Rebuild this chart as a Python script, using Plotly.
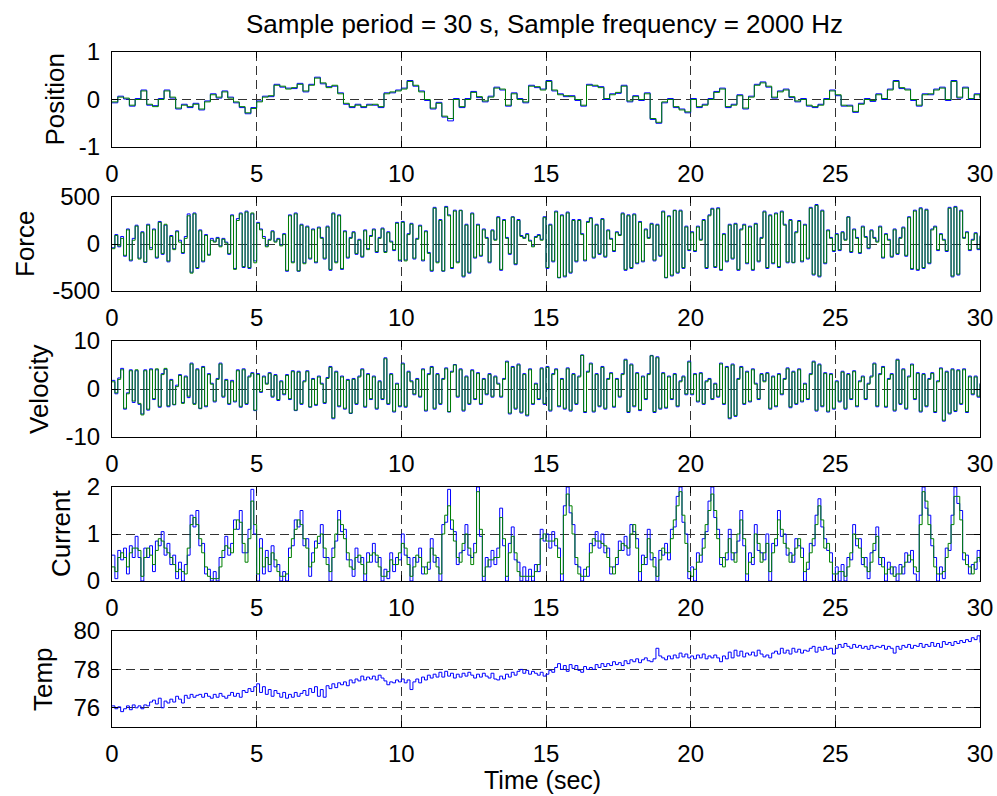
import numpy as np
import plotly.graph_objects as go

# ---------------- data ----------------
DT_POS = 0.2      # s, resolution used for the position traces
DT = 0.1          # s, resolution used for the other traces

pos_green = [
    -0.05, 0.05, 0.03, -0.12, 0.0,
    0.18, -0.1, -0.15, 0.0, 0.18,
    0.05, -0.18, -0.12, -0.15, -0.1,
    -0.2, -0.05, 0.1, 0.05, 0.16,
    0.03, -0.05, -0.15, -0.28, -0.19,
    -0.05, 0.05, 0.08, 0.3, 0.28,
    0.22, 0.25, 0.32, 0.18, 0.3,
    0.45, 0.35, 0.25, 0.3, 0.12,
    -0.08, -0.15, -0.12, -0.15, -0.12,
    -0.1, -0.15, 0.12, 0.16, 0.18,
    0.22, 0.38, 0.3, 0.16, 0.0,
    -0.18, -0.08, -0.35, -0.4, 0.0,
    -0.15, 0.0, 0.15, 0.06, -0.03,
    0.05, 0.24, 0.22, -0.12, 0.12,
    0.0, -0.05, 0.28, 0.27, 0.2,
    0.38, 0.2, 0.1, 0.08, 0.06,
    0.0, -0.12, 0.3, 0.3, 0.25,
    0.02, 0.1, 0.15, 0.28, -0.03,
    0.06, 0.0, 0.12, -0.4, -0.48,
    -0.05, 0.0, -0.15, -0.22, -0.26,
    0.0, -0.15, -0.12, 0.0, 0.15,
    0.22, -0.15, -0.12, 0.08, -0.18,
    0.05, 0.3, 0.35, 0.28, 0.05,
    0.16, 0.2, 0.06, -0.03, 0.0,
    -0.12, -0.15, -0.12, 0.0, 0.18,
    0.1, -0.12, -0.14, -0.25, -0.1,
    0.0, -0.02, 0.1, 0.02, 0.2,
    0.38, 0.25, 0.2, 0.0, -0.12,
    0.1, 0.12, 0.2, 0.24, 0.0,
    0.38, 0.05, 0.24, 0.02, 0.1,
    0.02]

pos_blue = [
    -0.07, 0.07, 0.01, -0.14, 0.02,
    0.2, -0.12, -0.13, 0.02, 0.2,
    0.03, -0.2, -0.1, -0.17, -0.08,
    -0.22, -0.03, 0.12, 0.03, 0.18,
    0.05, -0.07, -0.17, -0.3, -0.17,
    -0.03, 0.07, 0.06, 0.32, 0.26,
    0.24, 0.23, 0.34, 0.16, 0.32,
    0.47, 0.33, 0.27, 0.28, 0.14,
    -0.1, -0.17, -0.1, -0.17, -0.1,
    -0.12, -0.17, 0.14, 0.14, 0.2,
    0.24, 0.4, 0.28, 0.18, -0.02,
    -0.2, -0.06, -0.37, -0.45, 0.02,
    -0.17, 0.02, 0.17, 0.04, -0.05,
    0.07, 0.26, 0.2, -0.14, 0.14,
    0.02, -0.07, 0.3, 0.25, 0.22,
    0.4, 0.18, 0.12, 0.06, 0.08,
    -0.02, -0.14, 0.32, 0.28, 0.27,
    0.0, 0.12, 0.13, 0.3, -0.05,
    0.08, -0.02, 0.14, -0.42, -0.5,
    -0.07, 0.02, -0.17, -0.2, -0.28,
    0.02, -0.17, -0.1, 0.02, 0.17,
    0.24, -0.17, -0.1, 0.1, -0.2,
    0.07, 0.32, 0.37, 0.26, 0.03,
    0.18, 0.22, 0.04, -0.05, 0.02,
    -0.14, -0.17, -0.1, 0.02, 0.2,
    0.08, -0.14, -0.12, -0.27, -0.08,
    0.02, -0.04, 0.12, 0.0, 0.22,
    0.4, 0.23, 0.22, -0.02, -0.14,
    0.12, 0.1, 0.22, 0.26, -0.02,
    0.4, 0.03, 0.26, 0.0, 0.12,
    0.04]

force_green = [
    -50, 90, -20, 60, -120, 150, -170, 40, 190, -160,
    120, -190, 200, -60, 150, -140, 230, -100, 210, -180,
    80, -60, 130, 20, -90, 60, 300, -310, 320, -250,
    140, -180, 90, -120, 40, 20, 60, -30, 50, 10,
    -100, 300, -270, 250, 320, -240, 340, -250, 330, -200,
    220, 150, 60, -30, 40, 130, 20, 50, -20, 100,
    -280, 300, -200, 320, -285, 200, -210, 180, -150, 150,
    -190, 170, 60, -150, 180, -270, 320, -200, 300, -260,
    130, -140, 60, 120, -100, 40, -130, 140, -60, 80,
    150, -80, 60, 160, -90, 120, 20, -60, 220, -170,
    230, -180, 100, 210, -150, 50, 190, -170, 130, -100,
    -280, 380, -200, 250, -285, 390, 300, -250, 350, -200,
    355, -340, 200, -300, 320, -140, 200, -120, 150, 60,
    -190, 140, 40, 280, -270, 250, 60, -100, 285, -210,
    250, 80, 60, 100, 30, -30, 70, 90, 40, 280,
    -250, 200, -180, 340, -355, 300, -340, 330, -300, 250,
    -180, 250, 100, -170, 230, 270, -140, 200, -100, 260,
    -130, 140, 50, -70, 120, 90, 320, -270, 300, -250,
    310, -200, 230, -180, 150, 60, 210, -170, 200, -120,
    340, -355, 290, -330, 355, -300, 350, -250, 180, -60,
    120, -70, 180, 40, 250, -250, 300, 370, -240, 375,
    -270, 100, -180, 200, -150, 210, -270, 150, 200, -200,
    180, -270, 210, -180, 60, 340, -250, 300, -200, 320,
    -240, 340, 200, -190, 250, -195, 120, 240, -180, 200,
    -150, 380, -320, 410, -340, 350, -200, 140, 60, -70,
    100, -60, 120, 40, 285, -80, 150, 60, -90, 180,
    70, -40, 140, 60, 20, 180, -140, 100, 40, -130,
    150, -100, 60, 170, -120, 280, -260, 350, -270, 375,
    -250, 360, -200, 150, 180, -60, 100, 40, -70, 380,
    -340, 390, -320, 350, 60, 120, -60, 40, 110, -50,
    80]

force_blue = [
    -40, 100, -30, 80, -130, 160, -180, 60, 200, -150,
    130, -195, 210, -40, 160, -150, 240, -110, 200, -190,
    90, -50, 140, 40, -100, 80, 320, -300, 330, -260,
    150, -190, 100, -110, 60, 30, 70, -20, 60, 20,
    -110, 310, -260, 270, 330, -250, 350, -260, 320, -180,
    230, 160, 80, -20, 50, 140, 30, 60, -10, 110,
    -290, 310, -190, 330, -290, 210, -200, 190, -160, 160,
    -200, 180, 70, -160, 190, -280, 330, -190, 310, -270,
    140, -150, 70, 130, -110, 50, -140, 150, -50, 90,
    160, -90, 70, 170, -80, 130, 30, -70, 230, -180,
    240, -170, 110, 220, -160, 60, 200, -180, 140, -90,
    -290, 390, -190, 260, -290, 400, 310, -260, 360, -190,
    360, -350, 210, -310, 330, -150, 210, -130, 160, 70,
    -200, 150, 50, 290, -280, 260, 70, -110, 290, -220,
    260, 90, 70, 110, 40, -20, 80, 100, 50, 290,
    -260, 210, -190, 350, -360, 310, -350, 340, -310, 260,
    -190, 260, 110, -180, 240, 280, -150, 210, -110, 270,
    -140, 150, 60, -80, 130, 100, 330, -280, 310, -260,
    320, -210, 240, -190, 160, 70, 220, -180, 210, -130,
    350, -360, 300, -340, 360, -310, 360, -260, 190, -70,
    130, -80, 190, 50, 260, -260, 310, 380, -250, 385,
    -280, 110, -190, 210, -160, 220, -280, 160, 210, -210,
    190, -280, 220, -190, 70, 350, -260, 310, -210, 330,
    -250, 350, 210, -200, 260, -200, 130, 250, -190, 210,
    -160, 390, -330, 420, -350, 360, -210, 150, 70, -80,
    110, -70, 130, 50, 290, -90, 160, 70, -100, 190,
    80, -50, 150, 70, 30, 190, -150, 110, 50, -140,
    160, -110, 70, 180, -130, 290, -270, 360, -280, 385,
    -260, 370, -210, 160, 190, -70, 110, 50, -80, 390,
    -350, 400, -330, 360, 70, 130, -70, 50, 120, -60,
    90]

vel_green = [
    1.5, -0.8, 2.0, 4.0, -4.0, -1.0, 3.8, -2.5, 4.0, -3.0,
    -5.4, 3.8, -4.2, 4.0, -2.0, 4.2, -3.6, 3.0, 4.3, -3.5,
    1.8, -3.2, 0.5, 2.8, -3.0, 2.5, -1.5, 5.2, -3.2, 4.0,
    -4.0, 4.5, -3.5, 3.0, 1.0, -2.5, 2.0, 5.2, -1.5, 1.8,
    -3.0, 1.5, -2.5, 3.8, -3.6, 4.0, -3.0, 2.5, 3.2, -4.4,
    3.0, -0.5, 2.5, 1.0, 3.2, -1.5, 2.8, -2.2, 1.5, -1.0,
    2.8, -2.0, 3.6, -4.4, 3.5, -3.0, 1.5, 3.6, -3.7, 2.0,
    -3.2, 2.5, 1.0, -2.8, 2.2, 4.5, -6.0, 3.5, -3.5, 2.5,
    -4.0, 1.8, -5.0, 2.0, -3.0, 2.5, 4.0, -3.6, 3.0, -2.0,
    2.5, -4.0, 1.5, -2.0, 6.3, -3.0, 3.0, -4.6, 1.0, -3.5,
    5.2, -3.6, 3.5, 1.5, -1.0, 2.0, -1.5, 4.0, -4.4, 3.0,
    4.5, -4.0, 3.0, -3.0, 2.0, 4.2, -4.7, 3.5, 5.0, -1.5,
    4.0, -4.4, 2.5, -3.0, 3.8, -2.0, 3.2, -3.0, 2.0, -1.0,
    3.0, -1.5, 2.5, 1.0, -1.5, 2.0, 5.6, -5.0, 4.5, -4.0,
    5.0, -4.8, 3.0, -5.4, 4.0, -3.0, 1.0, -2.0, 4.2, -3.0,
    4.5, -4.4, 3.0, 4.0, -3.5, 2.0, -4.0, 4.2, -4.4, 3.0,
    -3.0, 2.5, 7.0, -4.7, 3.5, 5.2, -4.6, 3.0, -3.5, 4.5,
    -4.0, 2.0, 3.2, -3.6, 2.0, -1.5, 3.0, 6.0, -4.7, 5.0,
    -3.5, 3.2, -4.3, 2.5, -2.0, 3.0, 6.9, -4.7, 6.5, -4.0,
    3.2, -3.8, 2.5, -2.0, 3.0, -3.5, 1.5, 2.5, -1.0, 5.6,
    -1.0, 3.0, -2.5, 3.2, -3.0, 1.5, 2.0, -2.0, 1.0, -1.5,
    5.2, -3.0, 4.5, -6.0, 5.0, -5.5, 2.0, 4.5, -3.0, 3.5,
    -2.5, 4.0, 1.0, -2.0, 3.0, 1.5, 3.2, -4.0, 2.5, -3.5,
    3.0, -1.0, 2.0, 4.2, -3.7, 3.5, -3.0, 4.0, -2.5, 1.0,
    -2.0, 3.0, 5.6, -4.4, 5.0, -3.5, 3.2, -4.6, 3.0, -4.0,
    1.5, -2.5, 3.5, -4.0, 3.0, -2.0, 3.6, -3.5, 1.5, 2.5,
    -2.0, 1.0, 2.5, 5.2, -3.5, 3.0, 4.5, -3.6, 2.0, 3.0,
    -4.4, 6.0, -3.0, 4.0, -4.0, 2.5, 5.0, -2.0, 3.2, -4.6,
    3.0, -3.5, 2.0, 3.2, -4.7, 1.5, 4.2, -6.5, 3.5, -5.0,
    4.0, -4.5, 3.8, -3.0, 4.0, -4.7, 2.5, -1.0, 2.5, -1.5,
    1.0]

vel_blue = [
    1.8, -1.0, 2.3, 4.3, -4.2, -0.8, 4.0, -2.8, 3.8, -3.2,
    -5.2, 4.0, -4.4, 4.2, -2.2, 4.0, -3.8, 3.2, 4.1, -3.7,
    2.0, -3.3, 0.8, 3.0, -2.8, 2.7, -1.8, 5.4, -3.0, 4.2,
    -4.1, 4.7, -3.7, 3.2, 1.2, -2.7, 2.2, 5.4, -1.7, 2.0,
    -3.2, 1.8, -2.7, 4.0, -3.8, 4.2, -3.2, 2.7, 3.4, -4.5,
    3.2, -0.7, 2.7, 1.2, 3.4, -1.7, 3.0, -2.4, 1.7, -1.2,
    3.0, -2.2, 3.8, -4.5, 3.7, -3.2, 1.7, 3.8, -3.8, 2.2,
    -3.4, 2.7, 1.2, -3.0, 2.4, 4.7, -6.2, 3.7, -3.7, 2.7,
    -4.2, 2.0, -5.1, 2.2, -3.2, 2.7, 4.2, -3.8, 3.2, -2.2,
    2.7, -4.2, 1.7, -2.2, 6.5, -3.2, 3.2, -4.8, 1.2, -3.7,
    5.4, -3.8, 3.7, 1.7, -1.2, 2.2, -1.7, 4.2, -4.6, 3.2,
    4.7, -4.2, 3.2, -3.2, 2.2, 4.4, -4.8, 3.7, 5.1, -1.7,
    4.2, -4.6, 2.7, -3.2, 4.0, -2.2, 3.4, -3.2, 2.2, -1.2,
    3.2, -1.7, 2.7, 1.2, -1.7, 2.2, 5.8, -5.2, 4.7, -4.2,
    5.2, -5.0, 3.2, -5.6, 4.2, -3.2, 1.2, -2.2, 4.4, -3.2,
    4.7, -4.6, 3.2, 4.2, -3.7, 2.2, -4.2, 4.4, -4.6, 3.2,
    -3.2, 2.7, 7.1, -4.9, 3.7, 5.4, -4.8, 3.2, -3.7, 4.7,
    -4.2, 2.2, 3.4, -3.8, 2.2, -1.7, 3.2, 6.2, -4.9, 5.2,
    -3.7, 3.4, -4.5, 2.7, -2.2, 3.2, 7.0, -4.9, 6.7, -4.2,
    3.4, -4.0, 2.7, -2.2, 3.2, -3.7, 1.7, 2.7, -1.2, 5.8,
    -1.2, 3.2, -2.7, 3.4, -3.2, 1.7, 2.2, -2.2, 1.2, -1.7,
    5.4, -3.2, 4.7, -6.2, 5.2, -5.7, 2.2, 4.7, -3.2, 3.7,
    -2.7, 4.2, 1.2, -2.2, 3.2, 1.7, 3.4, -4.2, 2.7, -3.7,
    3.2, -1.2, 2.2, 4.4, -3.9, 3.7, -3.2, 4.2, -2.7, 1.2,
    -2.2, 3.2, 5.8, -4.6, 5.2, -3.7, 3.4, -4.8, 3.2, -4.2,
    1.7, -2.7, 3.7, -4.2, 3.2, -2.2, 3.8, -3.7, 1.7, 2.7,
    -2.2, 1.2, 2.7, 5.4, -3.7, 3.2, 4.7, -3.8, 2.2, 3.2,
    -4.6, 6.2, -3.2, 4.2, -4.2, 2.7, 5.2, -2.2, 3.4, -4.8,
    3.2, -3.7, 2.2, 3.4, -4.9, 1.7, 4.4, -6.7, 3.7, -5.2,
    4.2, -4.7, 4.0, -3.2, 4.2, -4.9, 2.7, -1.2, 2.7, -1.7,
    1.2]

cur_green = [
    0.3, 0.2, 0.5, 0.6, 0.5, 0.3, 0.6, 0.7, 0.7, 0.65,
    0.1, 0.5, 0.7, 0.55, 0.35, 0.65, 0.9, 0.85, 0.7, 0.6,
    0.5, 0.35, 0.2, 0.25, 0.2, 0.15, 0.7, 1.2, 1.35, 1.2,
    0.9, 0.6, 0.3, 0.1, 0.05, 0.05, 0.05, 0.3, 0.65, 0.75,
    0.7, 0.6, 1.1, 1.3, 1.25, 0.8, 0.4, 0.9, 1.7, 1.2,
    0.15, 0.7, 0.3, 0.5, 0.35, 0.6, 0.45, 0.2, 0.1, 0.1,
    0.15, 0.5, 0.9, 1.1, 1.3, 1.2, 0.9, 0.7, 0.3, 0.4,
    0.7, 0.95, 1.0, 0.7, 0.35, 0.2, 0.5, 1.0, 1.3, 1.2,
    0.9, 0.6, 0.3, 0.25, 0.5, 0.55, 0.35, 0.15, 0.4, 0.55,
    0.6, 0.55, 0.3, 0.1, 0.1, 0.2, 0.45, 0.35, 0.35, 0.6,
    0.8, 0.7, 0.35, 0.1, 0.3, 0.55, 0.5, 0.3, 0.15, 0.4,
    0.7, 0.55, 0.3, 0.15, 1.0, 1.4, 1.6, 1.3, 0.85, 0.5,
    0.4, 0.8, 1.0, 0.7, 0.35, 0.6, 1.9, 1.1, 0.1, 0.3,
    0.45, 0.45, 0.5, 0.5, 1.35, 0.9, 0.1, 0.6, 0.95, 0.6,
    0.2, 0.1, 0.1, 0.1, 0.1, 0.1, 0.2, 0.35, 0.9, 1.0,
    0.85, 0.85, 0.85, 0.9, 0.5, 0.15, 1.4, 1.85, 1.6, 1.0,
    0.5, 0.15, 0.1, 0.1, 0.3, 0.6, 0.9, 0.85, 0.85, 0.8,
    0.75, 0.5, 0.3, 0.15, 0.5, 0.65, 0.8, 0.75, 0.7, 1.0,
    1.2, 0.7, 0.2, 0.35, 0.5, 0.9, 0.6, 0.3, 0.1, 0.45,
    0.7, 0.6, 0.6, 0.9, 1.3, 1.6, 1.9, 1.4, 0.8, 0.2,
    0.1, 0.25, 0.4, 0.55, 0.7, 1.2, 1.5, 1.85, 1.5, 0.9,
    0.5, 0.3, 0.6, 0.9, 0.6, 0.4, 1.0, 1.3, 0.9, 0.15,
    0.4, 0.5, 1.0, 0.8, 0.4, 0.6, 0.8, 0.2, 0.6, 0.9,
    1.3, 1.1, 0.8, 0.7, 0.4, 0.55, 0.7, 0.9, 0.5, 0.2,
    0.4, 0.6, 0.9, 1.2, 1.6, 1.3, 0.7, 0.8, 0.4, 0.15,
    0.15, 0.2, 0.2, 0.1, 0.3, 0.6, 1.0, 0.9, 0.7, 0.5,
    0.3, 0.2, 0.4, 0.8, 0.95, 0.5, 0.3, 0.15, 0.25, 0.3,
    0.1, 0.15, 0.15, 0.3, 0.4, 0.55, 0.45, 0.3, 0.2, 1.2,
    1.9, 1.7, 1.2, 0.9, 0.3, 0.15, 0.15, 0.2, 0.5, 0.8,
    1.2, 1.8, 1.8, 1.3, 0.6, 0.35, 0.3, 0.15, 0.4, 0.5,
    0.45]

cur_blue = [
    0.55, 0.05, 0.65, 0.45, 0.7, 0.15, 0.75, 0.5, 0.95, 0.5,
    0.0, 0.7, 0.5, 0.75, 0.2, 0.85, 0.75, 1.05, 0.55, 0.8,
    0.35, 0.55, 0.05, 0.4, 0.0, 0.35, 0.55, 1.4, 1.15, 1.5,
    0.75, 0.8, 0.15, 0.25, 0.0, 0.2, 0.0, 0.5, 0.5, 0.95,
    0.55, 0.8, 1.3, 1.1, 1.5, 0.6, 0.6, 1.1, 1.95, 1.0,
    0.0, 0.9, 0.15, 0.65, 0.2, 0.75, 0.3, 0.35, 0.0, 0.2,
    0.0, 0.7, 0.75, 1.3, 1.15, 1.5, 0.75, 0.9, 0.1, 0.6,
    0.85, 0.8, 1.2, 0.5, 0.5, 0.0, 0.7, 0.85, 1.5, 1.05,
    1.1, 0.45, 0.45, 0.1, 0.7, 0.4, 0.5, 0.0, 0.6, 0.4,
    0.8, 0.4, 0.5, 0.0, 0.25, 0.05, 0.6, 0.2, 0.5, 0.45,
    1.0, 0.55, 0.5, 0.0, 0.5, 0.4, 0.7, 0.15, 0.3, 0.25,
    0.9, 0.4, 0.5, 0.0, 1.2, 1.25, 1.95, 1.1, 1.05, 0.35,
    0.6, 0.65, 1.2, 0.55, 0.5, 0.8, 2.0, 0.95, 0.0, 0.5,
    0.3, 0.65, 0.35, 0.7, 1.55, 0.75, 0.0, 0.8, 1.15, 0.45,
    0.4, 0.0, 0.3, 0.0, 0.25, 0.0, 0.35, 0.2, 1.1, 0.85,
    1.0, 0.7, 1.05, 0.75, 0.7, 0.0, 1.6, 2.0, 1.45, 1.2,
    0.35, 0.3, 0.0, 0.25, 0.1, 0.8, 0.75, 1.05, 0.7, 1.0,
    0.6, 0.7, 0.15, 0.3, 0.35, 0.85, 0.65, 0.95, 0.55, 1.2,
    1.05, 0.9, 0.0, 0.55, 0.35, 1.1, 0.45, 0.5, 0.0, 0.65,
    0.55, 0.8, 0.45, 1.1, 1.15, 1.8, 2.0, 1.25, 1.0, 0.05,
    0.3, 0.0, 0.6, 0.4, 0.9, 1.05, 1.7, 2.0, 1.35, 1.1,
    0.35, 0.5, 0.45, 1.1, 0.45, 0.6, 0.85, 1.5, 0.75, 0.0,
    0.6, 0.35, 1.2, 0.65, 0.6, 0.45, 1.0, 0.0, 0.8, 0.75,
    1.5, 0.95, 1.0, 0.55, 0.6, 0.4, 0.9, 0.75, 0.7, 0.0,
    0.25, 0.8, 0.75, 1.4, 1.75, 1.15, 0.9, 0.65, 0.6, 0.0,
    0.3, 0.0, 0.35, 0.0, 0.5, 0.45, 1.2, 0.75, 0.9, 0.35,
    0.5, 0.05, 0.6, 0.65, 1.15, 0.35, 0.5, 0.0, 0.4, 0.15,
    0.3, 0.0, 0.35, 0.15, 0.6, 0.4, 0.65, 0.15, 0.0, 1.4,
    2.0, 1.55, 1.4, 0.75, 0.5, 0.0, 0.3, 0.05, 0.7, 0.65,
    1.4, 2.0, 1.65, 1.5, 0.45, 0.55, 0.15, 0.35, 0.25, 0.65,
    0.4]

temp = [
    76.1, 75.95, 76.05, 75.8, 75.95, 76.1, 75.9, 76.15, 76.0, 76.1,
    75.95, 76.15, 76.1, 76.3, 76.4, 76.2, 76.5, 76.0, 76.35, 76.25,
    76.45, 76.3, 76.6, 76.45, 76.25, 76.65, 76.5, 76.7, 76.55, 76.65,
    76.7, 76.55, 76.75, 76.6, 76.5, 76.7, 76.55, 76.75, 76.6, 76.5,
    76.65, 76.8, 76.6, 76.75, 76.55, 76.9, 76.8, 77.0, 76.85, 77.1,
    77.25, 76.8, 77.1, 76.7, 76.95, 76.6, 76.9, 76.75, 76.55, 76.8,
    76.5, 76.7, 76.55, 76.8, 76.6, 76.75, 76.9, 76.65, 77.0, 76.8,
    77.1, 76.6, 76.95, 76.55, 77.15, 77.0, 77.25, 77.05, 77.3, 77.2,
    77.35, 77.15, 77.45, 77.3, 77.5, 77.4, 77.65, 77.45, 77.6, 77.5,
    77.65, 77.45, 77.7, 77.55, 77.4, 77.2, 77.35, 77.3, 77.45, 77.35,
    77.5, 77.3, 77.45, 76.95, 77.35, 77.5, 77.3, 77.6, 77.45, 77.7,
    77.55, 77.75, 77.6, 77.85, 77.6, 77.9, 77.65, 77.8, 77.55, 77.75,
    77.6, 77.8, 77.65, 77.85, 77.7, 77.55, 77.75, 77.6, 77.8, 77.65,
    77.55, 77.8, 77.5, 77.45, 77.65, 77.5, 77.75, 77.6, 77.85, 77.7,
    77.9, 78.0, 77.8, 77.95, 77.75, 77.9, 77.8, 77.7, 77.85, 77.65,
    77.75, 77.95, 77.85, 78.1, 78.3, 78.0, 78.2, 77.9, 78.25, 78.05,
    78.2, 77.95, 77.85, 78.15, 78.0, 78.1, 78.0, 78.25, 78.1, 78.3,
    78.15, 78.3, 78.2, 78.4, 78.25, 78.35, 78.2, 78.45, 78.3, 78.5,
    78.4, 78.55, 78.35, 78.5, 78.6, 78.45, 78.4, 78.55, 79.1, 78.7,
    78.6, 78.5, 78.7, 78.55, 78.75, 78.6, 78.85, 78.65, 78.8, 78.6,
    78.7, 78.55, 78.75, 78.6, 78.8, 78.55, 78.7, 78.6, 78.75, 78.6,
    78.4, 78.7, 78.55, 78.9, 78.6, 79.0, 78.7, 78.95, 78.65, 78.85,
    78.75, 78.9, 78.7, 79.0, 78.8, 78.65, 78.75, 78.6, 78.85, 78.95,
    78.8, 79.1, 78.85, 79.0, 78.8, 79.1, 78.9, 79.05, 78.85, 79.0,
    78.95, 79.1, 79.2, 78.9, 79.15, 79.0, 79.2, 79.05, 79.1, 78.8,
    79.1, 79.3, 79.15, 79.35, 79.2, 79.1, 79.3, 79.15, 79.25, 79.1,
    79.2, 79.05, 79.25, 79.1, 79.2, 79.15, 79.25, 79.05, 79.2, 79.1,
    78.85, 79.2, 79.05, 79.25, 79.15, 79.3, 79.1, 79.25, 79.2, 79.35,
    79.15, 79.3, 79.2, 79.4, 79.2, 79.35, 79.15, 79.45, 79.3, 79.4,
    79.25, 79.45, 79.35, 79.5, 79.4, 79.55, 79.45, 79.65, 79.55, 79.75,
    79.4]

x_ticks = [0, 5, 10, 15, 20, 25, 30]
y_labels = ["Position", "Force", "Velocity", "Current", "Temp"]
y_ranges = [[-1, 1], [-500, 500], [-10, 10], [0, 2], [75, 80]]
y_tickvals = [[-1, 0, 1], [-500, 0, 500], [-10, 0, 10], [0, 1, 2], [76, 78, 80]]
y_ticktext = [["-1", "0", "1"], ["-500", "0", "500"], ["-10", "0", "10"],
              ["0", "1", "2"], ["76", "78", "80"]]
title_text = "Sample period = 30 s, Sample frequency = 2000 Hz"
xlabel_text = "Time (sec)"

# ---------------- figure ----------------
W, H = 997, 796
BLUE = "#0000ff"
GREEN = "#008000"
FONT = "Liberation Sans, Arial, Helvetica, sans-serif"


def tt(vals, dt):
    return np.round(np.arange(len(vals)) * dt, 4)


series = [
    [(pos_blue, DT_POS, BLUE), (pos_green, DT_POS, GREEN)],
    [(force_blue, DT, BLUE), (force_green, DT, GREEN)],
    [(vel_blue, DT, BLUE), (vel_green, DT, GREEN)],
    [(cur_blue, DT, BLUE), (cur_green, DT, GREEN)],
    [(temp, DT, BLUE)],
]

fig = go.Figure()
for i, group in enumerate(series):
    k = "" if i == 0 else str(i + 1)
    for vals, dt, col in group:
        fig.add_trace(go.Scatter(
            x=tt(vals, dt), y=vals, mode="lines", line_shape="hv",
            line=dict(color=col, width=1), xaxis="x" + k, yaxis="y" + k,
            showlegend=False, hoverinfo="skip"))

tops = [52, 197, 341, 487, 631]
bots = [147, 291, 437, 581, 727]
xdom = [112 / W, 980 / W]

common = dict(showline=True, linecolor="black", linewidth=1, mirror="ticks",
              ticks="inside", ticklen=6, tickwidth=1, tickcolor="black",
              showgrid=True, gridcolor="#333333", griddash="9px,5px",
              gridwidth=1, zeroline=False, automargin=False,
              tickfont=dict(family=FONT, size=24, color="black"))

layout = dict(width=W, height=H,
              margin=dict(l=0, r=0, t=0, b=0, pad=0, autoexpand=False),
              paper_bgcolor="white", plot_bgcolor="white",
              font=dict(family=FONT, size=24, color="black"),
              annotations=[])

ylab_x = [54, 25, 39, 61, 43]
for i in range(5):
    k = "" if i == 0 else str(i + 1)
    ydom = [1 - bots[i] / H, 1 - tops[i] / H]
    layout["xaxis" + k] = dict(common, domain=xdom, range=[0, 30],
                               tickvals=x_ticks, ticktext=[str(v) for v in x_ticks],
                               anchor="y" + k, ticklabelstandoff=5)
    layout["yaxis" + k] = dict(common, domain=ydom, range=y_ranges[i],
                               tickvals=y_tickvals[i], ticktext=y_ticktext[i],
                               anchor="x" + k, ticklabelstandoff=6)
    layout["annotations"].append(dict(
        text=y_labels[i], textangle=-90, showarrow=False,
        xref="paper", yref="paper", x=ylab_x[i] / W,
        y=1 - (tops[i] + bots[i]) / 2 / H, xanchor="center", yanchor="middle",
        font=dict(family=FONT, size=26, color="black")))

layout["annotations"].append(dict(
    text=title_text, showarrow=False, xref="paper", yref="paper",
    x=544 / W, y=1 - 24 / H, xanchor="center", yanchor="middle",
    font=dict(family=FONT, size=26, color="black")))
layout["annotations"].append(dict(
    text=xlabel_text, showarrow=False, xref="paper", yref="paper",
    x=542 / W, y=1 - 780 / H, xanchor="center", yanchor="middle",
    font=dict(family=FONT, size=25, color="black")))

fig.update_layout(**layout)
fig.write_html("out.html")
